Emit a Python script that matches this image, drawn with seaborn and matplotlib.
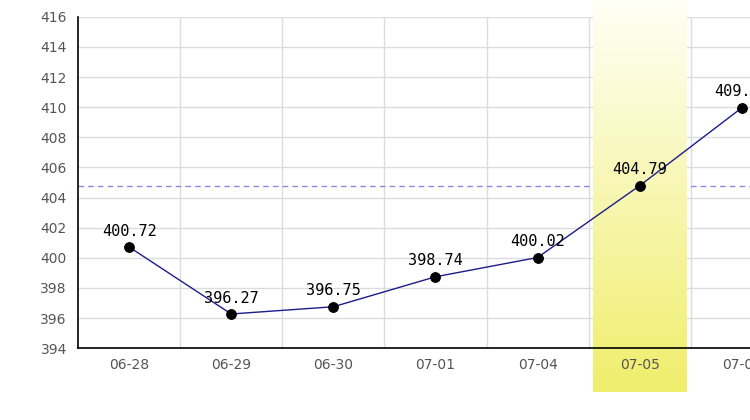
import numpy as np
import pandas as pd
import matplotlib
matplotlib.use("Agg")
import matplotlib.pyplot as plt
import seaborn as sns
from matplotlib.colors import LinearSegmentedColormap

# data
dates = ["06-28", "06-29", "06-30", "07-01", "07-04", "07-05", "07-06"]
prices = [400.72, 396.27, 396.75, 398.74, 400.02, 404.79, 409.96]
highlight = "07-05"
ref_level = 404.79

df = pd.DataFrame({"date": dates, "price": prices})
df["pos"] = np.arange(len(df))

sns.set_style("white")
plt.rcParams["font.family"] = ["DejaVu Sans"]

fig = plt.figure(figsize=(7.5, 4.2), dpi=100)
ax = fig.add_axes([0.104, 0.171, 0.896, 0.789])

# grid
for y in range(394, 417, 2):
    ax.axhline(y, color="#dcdcdc", lw=1, zorder=1)
for x in np.arange(0.5, len(dates), 1):
    ax.axvline(x, color="#dcdcdc", lw=1, zorder=1)

ax.axhline(ref_level, color="#8a8ad8", lw=1, ls=(0, (4, 3)), zorder=2)

# highlighted day: vertical yellow gradient running past the axes, over grid
hi = dates.index(highlight)
cmap = LinearSegmentedColormap.from_list("band", ["#fffff6", "#f0ee6c"])
grad = np.linspace(0, 1, 256).reshape(-1, 1)
ax.imshow(grad, cmap=cmap, aspect="auto", origin="upper",
          extent=[hi - 0.46, hi + 0.46, 391.1, 417.0],
          clip_on=False, zorder=2.4)

sns.lineplot(data=df, x="pos", y="price", ax=ax, color="#1c1c8a", lw=1,
             marker="o", markersize=7, markerfacecolor="black",
             markeredgecolor="black", zorder=3)

for p, v in zip(df["pos"], df["price"]):
    ax.annotate(f"{v:.2f}", (p, v), xytext=(0, 6), textcoords="offset points",
                ha="center", va="bottom", fontsize=11,
                family="DejaVu Sans Mono", color="black", zorder=4)

ax.set_xlim(-0.5, 6.08)
ax.set_ylim(394, 416)
ax.set_yticks(range(394, 417, 2))
ax.set_xticks(df["pos"])
ax.set_xticklabels(dates)
ax.tick_params(axis="both", length=0, labelsize=10, labelcolor="#555555")
ax.tick_params(axis="y", pad=8)
ax.tick_params(axis="x", pad=7)
ax.xaxis.set_zorder(6)
ax.set_xlabel("")
ax.set_ylabel("")

for s in ["top", "right"]:
    ax.spines[s].set_visible(False)
for s in ["left", "bottom"]:
    ax.spines[s].set_color("black")
    ax.spines[s].set_linewidth(1.2)
    ax.spines[s].set_zorder(5)

fig.savefig("out.png", dpi=100)
